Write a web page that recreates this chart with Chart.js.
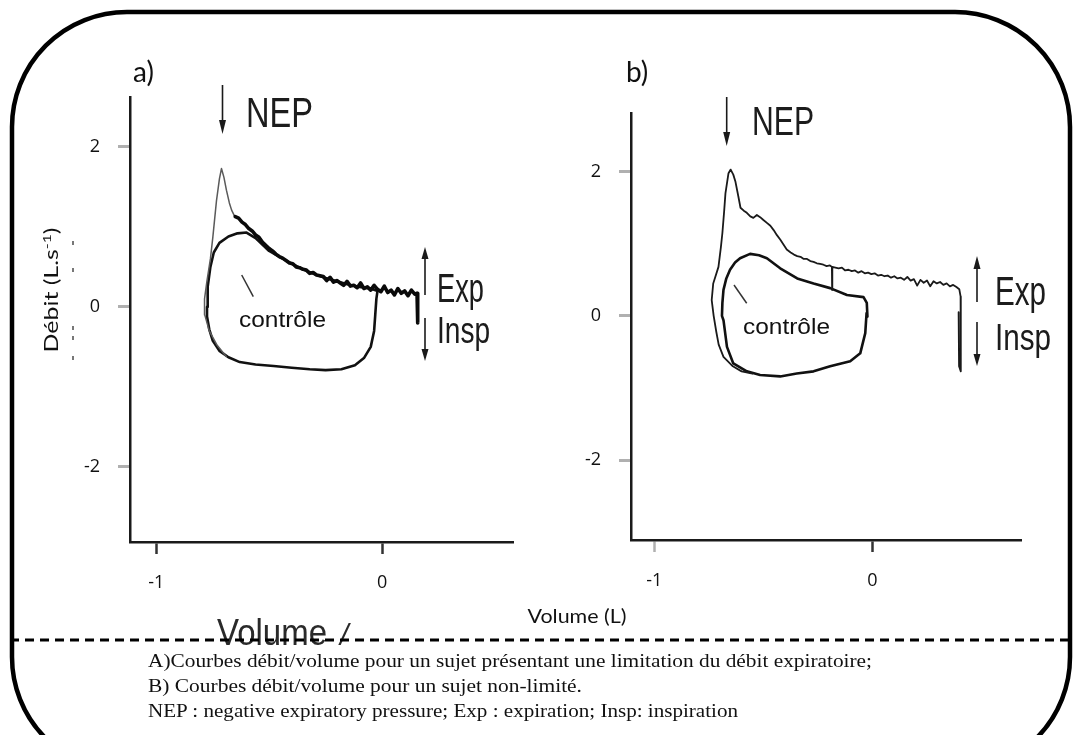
<!DOCTYPE html>
<html><head><meta charset="utf-8">
<script src="https://cdn.jsdelivr.net/npm/chart.js@4.4.1/dist/chart.umd.min.js"></script>
<style>
html,body{margin:0;padding:0;background:#fff;width:1075px;height:735px;overflow:hidden;}
#wrap{position:relative;width:1075px;height:735px;}
canvas{position:absolute;top:0;}
#ca{left:0;width:540px;height:640px;}
#cb{left:540px;width:535px;height:640px;}
svg{position:absolute;left:0;top:0;}
</style></head>
<body><div id="wrap">
<svg id="bg" width="1075" height="735">
  <rect x="12" y="12" width="1058" height="760" rx="115" ry="115" fill="none" stroke="#000" stroke-width="4.5"/>
</svg>
<canvas id="ca" width="540" height="640"></canvas>
<canvas id="cb" width="535" height="640"></canvas>
<svg id="fg" width="1075" height="735">
  <defs><filter id="soft"><feGaussianBlur stdDeviation="0.6"/></filter></defs>
  <text x="133" y="82" font-family="Lato" font-size="28" fill="#111">a)</text>
  <text x="626" y="82" font-family="Lato" font-size="28" fill="#111">b)</text>
  <text transform="translate(58,290) rotate(-90)" text-anchor="middle" font-family="Lato" font-size="19" fill="#111" textLength="125" lengthAdjust="spacingAndGlyphs">Débit (L.s<tspan dy="-7" font-size="12">-1</tspan><tspan dy="7">)</tspan></text>
  <g fill="#777"><rect x="72" y="241" width="2" height="4"/><rect x="72" y="268" width="2" height="4"/><rect x="72" y="326" width="2" height="4"/><rect x="72" y="336" width="2" height="4"/><rect x="72" y="356" width="2" height="4"/></g>
  <text x="577" y="623" text-anchor="middle" font-family="Lato" font-size="19" fill="#111" textLength="99" lengthAdjust="spacingAndGlyphs">Volume (L)</text>
  <g filter="url(#soft)" fill="#2a2a2a" font-family="Liberation Sans">
    <text x="217" y="645" font-size="37" textLength="110" lengthAdjust="spacingAndGlyphs">Volume</text>
    <text x="340" y="645" font-size="30" font-style="italic">/</text>
  </g>
  <line x1="10" y1="640" x2="1075" y2="640" stroke="#000" stroke-width="3" stroke-dasharray="9 6"/>
  <g font-family="Liberation Serif" font-size="19" fill="#111">
    <text x="148" y="667" textLength="724" lengthAdjust="spacingAndGlyphs">A)Courbes débit/volume pour un sujet présentant une limitation du débit expiratoire;</text>
    <text x="148" y="692" textLength="434" lengthAdjust="spacingAndGlyphs">B) Courbes débit/volume pour un sujet non-limité.</text>
    <text x="148" y="717" textLength="590" lengthAdjust="spacingAndGlyphs">NEP : negative expiratory pressure; Exp : expiration; Insp: inspiration</text>
  </g>
  <g filter="url(#soft)" fill="#1a1a1a" stroke="none" font-family="Liberation Sans">
    <text x="246" y="127" font-size="42" textLength="67" lengthAdjust="spacingAndGlyphs">NEP</text>
    <text x="437" y="302" font-size="40" textLength="47" lengthAdjust="spacingAndGlyphs">Exp</text>
    <text x="437" y="343" font-size="36" textLength="53" lengthAdjust="spacingAndGlyphs">Insp</text>
    <text x="752" y="135" font-size="40" textLength="62" lengthAdjust="spacingAndGlyphs">NEP</text>
    <text x="995" y="305" font-size="40" textLength="51" lengthAdjust="spacingAndGlyphs">Exp</text>
    <text x="995" y="350" font-size="36" textLength="56" lengthAdjust="spacingAndGlyphs">Insp</text>
  </g>
  <g stroke="#1a1a1a" stroke-width="1.6" fill="#1a1a1a">
    <line x1="222.5" y1="85" x2="222.5" y2="126"/><polygon points="219,120 226,120 222.5,134" stroke="none"/>
    <line x1="425" y1="258" x2="425" y2="295"/><polygon points="421.5,259 428.5,259 425,247" stroke="none"/>
    <line x1="425" y1="318" x2="425" y2="352"/><polygon points="421.5,349 428.5,349 425,361" stroke="none"/>
    <line x1="726.7" y1="97" x2="726.7" y2="138"/><polygon points="723.2,132 730.2,132 726.7,146" stroke="none"/>
    <line x1="977" y1="268" x2="977" y2="302"/><polygon points="973.5,269 980.5,269 977,256" stroke="none"/>
    <line x1="977" y1="322" x2="977" y2="357"/><polygon points="973.5,354 980.5,354 977,366" stroke="none"/>
  </g>
  <g stroke="#333" stroke-width="1.5">
    <line x1="241.7" y1="275" x2="253.3" y2="296.7"/>
    <line x1="734" y1="285" x2="746.7" y2="303.3"/>
  </g>
  <g font-family="Liberation Sans" font-size="22" fill="#111">
    <text x="239" y="327" textLength="87" lengthAdjust="spacingAndGlyphs">contrôle</text>
    <text x="743" y="334" textLength="87" lengthAdjust="spacingAndGlyphs">contrôle</text>
  </g>
</svg>
</div>
<script>
// ---------- Panel a : expiratory flow limitation ----------
const aXTicks = [-1, 0];
const aXTickLabels = ['-1', '0'];
const aYTicks = [-2, 0, 2];
const aYTickLabels = ['-2', '0', '2'];

const aControlVol  = [-0.775,-0.772,-0.76,-0.745,-0.72,-0.68,-0.64,-0.60,-0.56,-0.50,-0.45,-0.40,-0.35,-0.30,-0.25,-0.20,-0.15,-0.10,-0.05,-0.02,-0.025,-0.03,-0.035,-0.05,-0.08,-0.12,-0.18,-0.25,-0.32,-0.40,-0.48,-0.56,-0.63,-0.68,-0.72,-0.75,-0.765,-0.775,-0.775];
const aControlFlow = [0.0,0.25,0.5,0.68,0.8,0.88,0.92,0.93,0.86,0.70,0.62,0.54,0.47,0.41,0.36,0.32,0.28,0.25,0.23,0.20,0.10,-0.10,-0.30,-0.50,-0.64,-0.73,-0.78,-0.79,-0.78,-0.76,-0.74,-0.72,-0.69,-0.63,-0.55,-0.42,-0.28,-0.12,0.0];

const aNepVol  = [-0.69,-0.73,-0.765,-0.785,-0.787,-0.785,-0.775,-0.76,-0.749,-0.733,-0.72,-0.711,-0.70,-0.689,-0.676,-0.666,-0.652];
const aNepFlow = [-0.62,-0.48,-0.30,-0.10,0.05,0.10,0.33,0.60,0.875,1.33,1.60,1.73,1.62,1.46,1.30,1.21,1.13];

const aLimitVol  = [-0.65,-0.635,-0.62,-0.605,-0.59,-0.575,-0.56,-0.545,-0.53,-0.515,-0.50,-0.485,-0.47,-0.455,-0.44,-0.425,-0.41,-0.395,-0.38,-0.365,-0.35,-0.335,-0.32,-0.305,-0.29,-0.275,-0.26,-0.245,-0.23,-0.215,-0.20,-0.185,-0.17,-0.155,-0.14,-0.125,-0.11,-0.095,-0.08,-0.065,-0.05,-0.035,-0.02,-0.005,0.01,0.025,0.04,0.055,0.07,0.085,0.10,0.115,0.13,0.145,0.155,0.158,0.158];
const aLimitFlow = [1.13,1.11,1.06,1.03,0.98,0.95,0.90,0.87,0.81,0.77,0.73,0.70,0.66,0.63,0.61,0.58,0.55,0.54,0.50,0.49,0.47,0.46,0.42,0.43,0.40,0.39,0.38,0.33,0.37,0.31,0.33,0.30,0.27,0.32,0.26,0.27,0.24,0.30,0.23,0.25,0.21,0.27,0.22,0.19,0.26,0.18,0.21,0.15,0.23,0.17,0.20,0.14,0.21,0.16,0.17,0.10,-0.20];

// ---------- Panel b : non-limited subject ----------
const bXTicks = [-1, 0];
const bXTickLabels = ['-1', '0'];
const bYTicks = [-2, 0, 2];
const bYTickLabels = ['-2', '0', '2'];

const bControlVol  = [-0.69,-0.688,-0.683,-0.67,-0.653,-0.63,-0.607,-0.561,-0.52,-0.484,-0.423,-0.345,-0.27,-0.194,-0.117,-0.041,-0.026,-0.023,-0.027,-0.033,-0.056,-0.102,-0.194,-0.27,-0.347,-0.423,-0.515,-0.576,-0.638,-0.667,-0.683,-0.69];
const bControlFlow = [0.0,0.18,0.36,0.52,0.64,0.74,0.80,0.86,0.84,0.80,0.66,0.52,0.45,0.385,0.29,0.26,0.18,-0.01,0.04,-0.24,-0.52,-0.63,-0.70,-0.77,-0.80,-0.84,-0.82,-0.77,-0.66,-0.43,-0.06,0.0];

const bNepVol  = [-0.55,-0.60,-0.64,-0.683,-0.705,-0.716,-0.728,-0.737,-0.73,-0.706,-0.695,-0.688,-0.68,-0.674,-0.66,-0.65,-0.638,-0.628,-0.615,-0.605,-0.59,-0.576,-0.56,-0.546,-0.53,-0.515,-0.50,-0.484,-0.468,-0.453,-0.438,-0.423,-0.408,-0.393,-0.375,-0.36,-0.345,-0.33,-0.315,-0.30,-0.285,-0.27,-0.255,-0.24,-0.225,-0.21,-0.195,-0.186,-0.185,-0.184,-0.17,-0.155,-0.14,-0.125,-0.11,-0.095,-0.08,-0.065,-0.05,-0.035,-0.02,-0.005,0.01,0.025,0.04,0.055,0.07,0.085,0.10,0.115,0.13,0.145,0.16,0.175,0.19,0.205,0.22,0.235,0.25,0.265,0.28,0.295,0.31,0.325,0.34,0.355,0.37,0.385,0.398,0.404,0.405,0.397,0.395];
const bNepFlow = [-0.80,-0.77,-0.70,-0.57,-0.40,-0.22,0.0,0.22,0.45,0.68,0.95,1.15,1.45,1.70,1.98,2.03,1.96,1.86,1.66,1.50,1.46,1.43,1.38,1.36,1.40,1.37,1.33,1.29,1.25,1.19,1.12,1.06,0.99,0.92,0.88,0.85,0.83,0.82,0.79,0.79,0.76,0.75,0.73,0.72,0.71,0.69,0.70,0.68,0.36,0.68,0.67,0.66,0.67,0.63,0.64,0.62,0.63,0.60,0.62,0.59,0.60,0.58,0.59,0.56,0.57,0.55,0.56,0.53,0.55,0.52,0.53,0.50,0.54,0.49,0.51,0.42,0.50,0.46,0.49,0.41,0.48,0.45,0.47,0.43,0.45,0.41,0.43,0.40,0.37,0.27,-0.77,-0.70,0.05];

function pts(xs, ys) { return xs.map((x, i) => ({ x: x, y: ys[i] })); }

function line(data, color, width) {
  return { data: data, showLine: true, borderColor: color, borderWidth: width,
           pointRadius: 0, pointHoverRadius: 0, fill: false, tension: 0,
           borderJoinStyle: 'round', borderCapStyle: 'round' };
}

function makeChart(id, datasets, xr, yr, xTicks, xLabels, yTicks, yLabels, pad, xTickColors) {
  return new Chart(document.getElementById(id), {
    type: 'scatter',
    data: { datasets: datasets },
    options: {
      responsive: false, animation: false, devicePixelRatio: 1,
      layout: { padding: pad },
      plugins: { legend: { display: false }, tooltip: { enabled: false } },
      events: [],
      scales: {
        x: {
          type: 'linear', min: xr[0], max: xr[1],
          afterFit: s => { s.height = 50; },
          afterBuildTicks: s => { s.ticks = xTicks.map(v => ({ value: v })); },
          grid: { display: true, drawOnChartArea: false, drawTicks: true, tickLength: 12,
                  tickWidth: 2.5, tickColor: c => xTickColors[c.index] || '#333' },
          border: { display: true, color: '#1a1a1a', width: 2.5 },
          ticks: { padding: 18, color: '#111', font: { family: 'Open Sans', size: 18 },
                   autoSkip: false, maxRotation: 0, callback: (v, i) => xLabels[i] }
        },
        y: {
          type: 'linear', min: yr[0], max: yr[1],
          afterFit: s => { s.width = 70; },
          afterBuildTicks: s => { s.ticks = yTicks.map(v => ({ value: v })); },
          grid: { display: true, drawOnChartArea: false, drawTicks: true, tickLength: 12,
                  tickWidth: 3, tickColor: '#b0b0b0' },
          border: { display: true, color: '#1a1a1a', width: 2.5 },
          ticks: { padding: 18, color: '#111', font: { family: 'Open Sans', size: 18 },
                   autoSkip: false, callback: (v, i) => yLabels[i] }
        }
      }
    }
  });
}

makeChart('ca', [
  line(pts(aLimitVol, aLimitFlow), '#0a0a0a', 3.6),
  line(pts(aNepVol, aNepFlow), '#5a5a5a', 1.5),
  line(pts(aControlVol, aControlFlow), '#111', 2.6)
], [-1.116, 0.58], [-2.94, 2.625], aXTicks, aXTickLabels, aYTicks, aYTickLabels,
   { left: 60, right: 27, top: 97, bottom: 48 }, ['#333', '#333']);

makeChart('cb', [
  line(pts(bNepVol, bNepFlow), '#1a1a1a', 1.8),
  line(pts(bControlVol, bControlFlow), '#111', 2.6)
], [-1.107, 0.681], [-3.11, 2.815], bXTicks, bXTickLabels, bYTicks, bYTickLabels,
   { left: 21, right: 54, top: 113, bottom: 50 }, ['#b0b0b0', '#333']);
</script>
</body></html>
